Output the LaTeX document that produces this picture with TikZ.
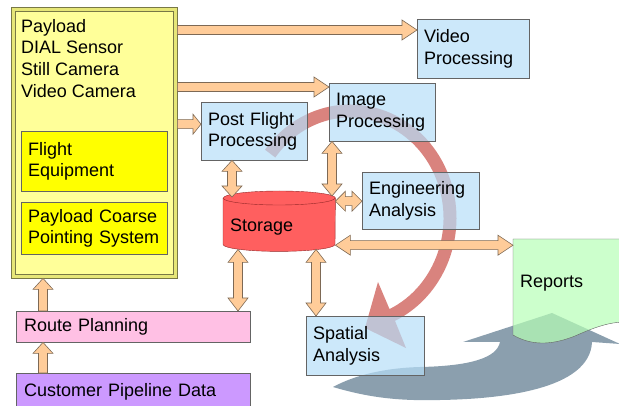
\documentclass[tikz,border=0pt]{standalone}
\usepackage{fontspec}
\setmainfont{Liberation Sans}
\usetikzlibrary{calc}
\definecolor{PaleYellow}{RGB}{255,255,153}
\definecolor{BevelYellow}{RGB}{230,230,120}
\definecolor{BevelLine}{RGB}{120,120,70}
\definecolor{BoxYellow}{RGB}{255,255,0}
\definecolor{ProcBlue}{RGB}{182,222,248}
\definecolor{BoxLine}{RGB}{100,100,100}
\definecolor{StoreRed}{RGB}{255,95,95}
\definecolor{StoreLine}{RGB}{150,40,40}
\definecolor{RoutePink}{RGB}{255,192,228}
\definecolor{DataPurple}{RGB}{204,153,255}
\definecolor{ReportGreen}{RGB}{182,255,182}
\definecolor{ArrowTan}{RGB}{255,204,153}
\definecolor{ArrowLine}{RGB}{125,105,85}
\definecolor{CycleRed}{RGB}{192,48,40}
\definecolor{CycleGray}{RGB}{139,159,174}
\hyphenpenalty=10000
\exhyphenpenalty=10000

% block arrow, head at #3
\newcommand{\fatarrow}[3][14pt]{%
	\coordinate (hb) at ($(#3)!#1!(#2)$);
	\filldraw[tanarrow] ($(#2)!4.5pt!90:(#3)$) -- ($(hb)!4.5pt!90:(#3)$) -- ($(hb)!10pt!90:(#3)$) -- (#3)
		-- ($(hb)!10pt!-90:(#3)$) -- ($(hb)!4.5pt!-90:(#3)$) -- ($(#2)!4.5pt!-90:(#3)$) -- cycle;}
% block arrow, both heads
\newcommand{\fatboth}[3][13pt]{%
	\coordinate (ha) at ($(#2)!#1!(#3)$);
	\coordinate (hb) at ($(#3)!#1!(#2)$);
	\filldraw[tanarrow] (#2) -- ($(ha)!10pt!90:(#3)$) -- ($(ha)!4.5pt!90:(#3)$) -- ($(hb)!4.5pt!90:(#3)$)
		-- ($(hb)!10pt!90:(#3)$) -- (#3) -- ($(hb)!10pt!-90:(#3)$) -- ($(hb)!4.5pt!-90:(#3)$)
		-- ($(ha)!4.5pt!-90:(#3)$) -- ($(ha)!10pt!-90:(#3)$) -- cycle;}

\begin{document}
\begin{tikzpicture}[x=1pt, y=-1pt, font={\fontsize{18pt}{21.7pt}\selectfont},
	box/.style={rectangle, draw=BoxLine, anchor=north west, align=left, inner xsep=8pt, inner ysep=0pt},
	proc/.style={box, inner xsep=7pt, fill=ProcBlue, fill opacity=0.7, text opacity=1},
	tanarrow/.style={fill=ArrowTan, draw=ArrowLine, line width=0.6pt}]
	\useasboundingbox (0,0) rectangle (619,406);
	% ciclo de fondo
	\fill[CycleGray] (333,387) .. controls (370,398) and (400,401) .. (440,400)
		.. controls (500,399) and (590,390) .. (592,342) -- (620,344) -- (552,313) -- (463,342) -- (500,342)
		.. controls (497,358) and (470,366) .. (420,367) .. controls (385,368) and (355,375) .. (333,387) -- cycle;
	\fill[CycleRed, opacity=0.6] (350,218) ++(143:106.5pt and 113.5pt)
		arc[start angle=143, end angle=-65, x radius=106.5pt, y radius=113.5pt]
		-- (406,348) -- (365,328) -- (378,282) -- ($(350,218)+(-65:93.5pt and 100.5pt)$)
		arc[start angle=-65, end angle=143, x radius=93.5pt, y radius=100.5pt] -- cycle;
	% payload
	\node[box, draw=BevelLine, fill=BevelYellow, minimum width=166pt, minimum height=271pt] (payload) at (11,7) {};
	\draw[BevelLine, fill=PaleYellow] ([shift={(4pt,4pt)}]payload.south west) rectangle ([shift={(-4pt,-4pt)}]payload.north east);
	\node[anchor=north west, align=left, inner sep=0pt] (payloadlbl) at (21,19) {Payload\\DIAL Sensor\\Still Camera\\Video Camera};
	\node[box, inner xsep=7pt, fill=BoxYellow, text width=132pt, minimum height=60pt] (flight) at (21,131) {Flight\\Equipment};
	\node[box, inner xsep=7pt, fill=BoxYellow, text width=132pt, minimum height=52pt] (coarse) at (21,202) {Payload Coarse\\Pointing System};
	% planning
	\node[box, fill=RoutePink, text width=218pt, minimum height=31pt] (route) at (16,311) {Route Planning};
	\node[box, fill=DataPurple, text width=218pt, minimum height=37pt] (customer) at (16,373) {Customer Pipeline Data};
	% processing
	\foreach \n/\x/\y/\w/\h/\t in {video/417/19/112/59/{Video\\Processing}, image/329/83/106/58/{Image\\Processing},
		postflight/201/102/106/58/{Post Flight\\Processing}, engineering/362/172/117/57/{Engineering\\Analysis},
		spatial/306/316/118/59/{Spatial\\Analysis}}{
		\pgfmathsetmacro{\tw}{\w-14}
		\node[proc, text width=\tw pt, minimum height=\h pt] (\n) at (\x,\y) {\t};}
	% storage
	\node[anchor=north west, minimum width=112pt, minimum height=60pt, inner sep=0pt] (storage) at (223,191) {};
	\draw[fill=StoreRed, draw=StoreLine] ([yshift=-7pt]storage.north west) -- ([yshift=7pt]storage.south west)
		arc[start angle=180, end angle=360, x radius=56pt, y radius=7pt] -- ([yshift=-7pt]storage.north east)
		arc[start angle=0, end angle=180, x radius=56pt, y radius=7pt] -- cycle;
	\draw[StoreLine] ([yshift=-7pt]storage.north west) arc[start angle=180, end angle=360, x radius=56pt, y radius=7pt];
	\node[anchor=base west, inner sep=0pt] (storagelbl) at (230,232) {Storage};
	% reports
	\node[anchor=north west, minimum width=112pt, minimum height=104pt, inner sep=0pt] (reports) at (513,239) {};
	\draw[fill=ReportGreen, fill opacity=0.7, draw=BoxLine] (reports.north east) -- (reports.north west) -- (513,335)
		.. controls (530,345) and (550,346) .. (575,336) .. controls (595,327) and (610,322) .. (625,322) -- cycle;
	\node[anchor=base west, inner sep=0pt] (reportslbl) at (520,288) {Reports};
	% payload outputs
	\coordinate (v1) at ([yshift=-11pt]video.north west);
	\coordinate (v0) at (payload.east |- v1);
	\fatarrow[15pt]{v0}{v1}
	\coordinate (i1) at ([yshift=-4pt]image.north west);
	\coordinate (i0) at (payload.east |- i1);
	\fatarrow[15pt]{i0}{i1}
	\coordinate (f1) at ([yshift=7pt]postflight.west);
	\coordinate (f0) at (payload.east |- f1);
	\fatarrow[8pt]{f0}{f1}
	% storage links
	\coordinate (a0) at ([xshift=31pt]postflight.south west);
	\coordinate (a1) at ($(a0 |- storage.north)+(0,6)$);
	\fatboth[11pt]{a0}{a1}
	\coordinate (b0) at ([xshift=3pt]image.south west);
	\coordinate (b1) at ($(b0 |- storage.north)+(0,5)$);
	\fatboth[12pt]{b0}{b1}
	\coordinate (c0) at ([yshift=20pt]storage.east);
	\coordinate (c1) at (engineering.west |- c0);
	\fatboth[10pt]{c0}{c1}
	\coordinate (d0) at ([yshift=-24pt]storage.east);
	\coordinate (d1) at (reports.west |- d0);
	\fatboth[15pt]{d0}{d1}
	\coordinate (e0) at ([xshift=10pt]spatial.north west);
	\coordinate (e1) at ($(e0 |- storage.south)+(0,-2)$);
	\fatboth[13pt]{e1}{e0}
	\coordinate (g0) at ([xshift=222pt]route.north west);
	\coordinate (g1) at ($(g0 |- storage.south)+(0,-2)$);
	\fatboth[13pt]{g1}{g0}
	% route planning
	\coordinate (r0) at ([xshift=27pt]customer.north west);
	\coordinate (r1) at (r0 |- route.south);
	\fatarrow[11pt]{r0}{r1}
	\coordinate (q0) at ([xshift=27pt]route.north west);
	\coordinate (q1) at (q0 |- payload.south);
	\fatarrow[11pt]{q0}{q1}
\end{tikzpicture}
\end{document}
